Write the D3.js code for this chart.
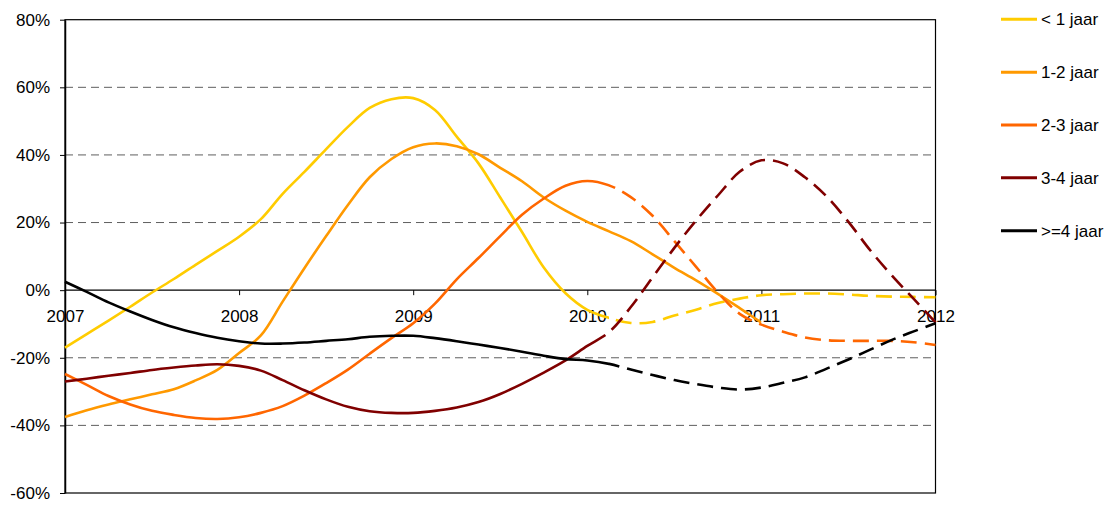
<!DOCTYPE html>
<html>
<head>
<meta charset="utf-8">
<script src="https://cdn.jsdelivr.net/npm/d3@7"></script>
<style>
  html, body { margin: 0; padding: 0; background: #fff; }
  svg { display: block; font-family: Arial, "Liberation Sans", sans-serif; }
</style>
</head>
<body>
<svg id="chart" width="1115" height="507"></svg>
<script>
// ---- data ----
const xPoints = [2007, 2007.125, 2007.25, 2007.375, 2007.5, 2007.625, 2007.75, 2007.875,
  2008, 2008.125, 2008.25, 2008.375, 2008.5, 2008.625, 2008.75, 2008.875,
  2009, 2009.125, 2009.25, 2009.375, 2009.5, 2009.625, 2009.75, 2009.875,
  2010, 2010.125, 2010.25, 2010.375, 2010.5, 2010.625, 2010.75, 2010.875,
  2011, 2011.125, 2011.25, 2011.375, 2011.5, 2011.625, 2011.75, 2011.875, 2012];

const seriesNames = ["< 1 jaar", "1-2 jaar", "2-3 jaar", "3-4 jaar", ">=4 jaar"];

const lessThan1 = [-17, -13, -9, -4.9, -0.7, 3.3, 7.5, 11.6, 15.8, 21, 28.5, 35, 41.7, 48.3, 53.9, 56.5,
  56.8, 53.3, 45.4, 37.5, 27.4, 17.2, 6.7, -0.9, -5.8, -8.2, -9.7, -9.4, -7.5, -5.8, -3.8, -2.5,
  -1.5, -1.2, -1.0, -1.0, -1.3, -1.7, -1.9, -2.0, -2.1];

const oneToTwo = [-37.5, -35.5, -33.8, -32.3, -30.8, -29.3, -26.7, -23.6, -18.6, -13.4, -3.4, 6.5, 16, 25.2, 33.4, 38.8,
  42.3, 43.4, 42.6, 40.2, 36.2, 32.2, 27.4, 23.5, 20.2, 17.4, 14.5, 10.6, 6.6, 2.9, -1.1, -5.3,
  -9.6, null, null, null, null, null, null, null, null];

const twoToThree = [-24.8, -28, -31.3, -33.8, -35.7, -36.9, -37.8, -38.1, -37.6, -36.3, -34.3, -31.2, -27.5, -23.5, -18.8, -14.2,
  -9.8, -4.0, 3.2, 9.5, 16, 22.3, 27.1, 30.9, 32.3, 31, 27.5, 22, 14.5, 6.9, -0.7, -7.0,
  -10.2, -12.3, -14, -14.8, -15, -15, -15, -15.4, -16.2];

const threeToFour = [-27, -26.2, -25.3, -24.5, -23.6, -22.9, -22.3, -21.9, -22.4, -23.8, -26.6, -29.6, -32.3, -34.5, -35.8, -36.3,
  -36.3, -35.7, -34.7, -33.1, -30.7, -27.7, -24.4, -20.8, -16.5, -12.4, -5.0, 3.8, 12.5, 20.6, 28, 35,
  38.4, 37.5, 33.4, 27.7, 20.2, 11.8, 4.3, -2.6, -9.5];

const fourPlus = [2.5, -0.5, -3.6, -6.3, -8.8, -11.0, -12.7, -14.1, -15.1, -15.8, -15.8, -15.5, -15.0, -14.5, -13.8, -13.5,
  -13.5, -14.2, -15.1, -16.1, -17.1, -18.2, -19.4, -20.4, -20.8, -21.8, -23.5, -25.1, -26.6, -27.8, -28.8, -29.4,
  -28.8, -27.4, -25.8, -23.2, -20.5, -17.6, -14.7, -12.2, -9.8];

const forecastStart = [2010.125, 2011, 2010.125, 2010.09, 2010.125];

const yTicks = [-60, -40, -20, 0, 20, 40, 60, 80];
const xTicks = [2007, 2008, 2009, 2010, 2011, 2012];
const gridValues = [-40, -20, 20, 40, 60];

const colors = ["#FFCC00", "#FF9900", "#FF6600", "#800000", "#000000"];

// ---- layout ----
const plotLeft = 65, plotRight = 935.5, plotTop = 19.7, plotBottom = 493;
const svg = d3.select("#chart");
const x = d3.scaleLinear().domain([2007, 2012]).range([plotLeft, plotRight]);
const y = d3.scaleLinear().domain([-60, 80]).range([plotBottom, plotTop]);

const allSeries = [lessThan1, oneToTwo, twoToThree, threeToFour, fourPlus].map((vals, i) => ({
  name: seriesNames[i],
  color: colors[i],
  split: forecastStart[i],
  points: xPoints.map((xv, j) => ({ x: xv, v: vals[j] }))
}));

// gridlines
svg.append("g").selectAll("line").data(gridValues).join("line")
  .attr("x1", plotLeft).attr("x2", plotRight)
  .attr("y1", d => y(d)).attr("y2", d => y(d))
  .attr("stroke", "#5f5f5f").attr("stroke-width", 1)
  .attr("stroke-dasharray", "8,5");

// plot border
svg.append("rect")
  .attr("x", plotLeft).attr("y", plotTop)
  .attr("width", plotRight - plotLeft).attr("height", plotBottom - plotTop)
  .attr("fill", "none").attr("stroke", "#000").attr("stroke-width", 1.2);

// zero line
svg.append("line")
  .attr("x1", plotLeft).attr("x2", plotRight)
  .attr("y1", y(0)).attr("y2", y(0))
  .attr("stroke", "#000").attr("stroke-width", 1.2);

// y axis
const yAxis = svg.append("g").attr("transform", `translate(${plotLeft},0)`)
  .call(d3.axisLeft(y).tickValues(yTicks).tickSize(5).tickSizeOuter(0).tickPadding(10)
    .tickFormat(d => d + "%"));
yAxis.select(".domain").attr("stroke", "#000").attr("stroke-width", 1.5);
yAxis.selectAll(".tick line").attr("stroke", "#000");
yAxis.selectAll("text").attr("font-size", 17).attr("fill", "#000")
  .attr("font-family", 'Arial, "Liberation Sans", sans-serif');

// x axis on the zero line
const xAxis = svg.append("g").attr("transform", `translate(0,${y(0)})`)
  .call(d3.axisBottom(x).tickValues(xTicks).tickSize(5).tickSizeOuter(0).tickFormat(d3.format("d")));
xAxis.select(".domain").remove();
xAxis.selectAll(".tick line").attr("stroke", "#000");
xAxis.selectAll("text").attr("font-size", 17).attr("fill", "#000")
  .attr("y", 19.5).attr("dy", "0.71em")
  .attr("font-family", 'Arial, "Liberation Sans", sans-serif');

// clip paths for actual (solid) and forecast (dashed) parts
const defs = svg.append("defs");
allSeries.forEach((s, i) => {
  defs.append("clipPath").attr("id", "solid" + i).append("rect")
    .attr("x", 0).attr("y", 0).attr("width", x(s.split)).attr("height", 507);
  defs.append("clipPath").attr("id", "dash" + i).append("rect")
    .attr("x", x(s.split)).attr("y", 0).attr("width", 1115 - x(s.split)).attr("height", 507);
});

const lineGen = d3.line()
  .defined(d => d.v !== null)
  .x(d => x(d.x)).y(d => y(d.v))
  .curve(d3.curveCatmullRom.alpha(0.5));

const linesG = svg.append("g");
allSeries.forEach((s, i) => {
  linesG.append("path").datum(s.points)
    .attr("d", lineGen)
    .attr("fill", "none").attr("stroke", s.color).attr("stroke-width", 2.6)
    .attr("stroke-linejoin", "round")
    .attr("clip-path", `url(#solid${i})`);
  linesG.append("path").datum(s.points)
    .attr("d", lineGen)
    .attr("fill", "none").attr("stroke", s.color).attr("stroke-width", 2.6)
    .attr("stroke-dasharray", "16,8")
    .attr("clip-path", `url(#dash${i})`);
});

// legend
const legendY0 = 19.3, legendStep = 52.85;
const legend = svg.append("g").selectAll("g").data(allSeries).join("g")
  .attr("transform", (d, i) => `translate(1001,${legendY0 + i * legendStep})`);
legend.append("line").attr("x1", 0).attr("x2", 36).attr("y1", 0).attr("y2", 0)
  .attr("stroke", d => d.color).attr("stroke-width", 3);
legend.append("text").attr("x", 40).attr("y", 0).attr("dy", "0.35em")
  .attr("font-size", 17).attr("fill", "#000").text(d => d.name);
</script>
</body>
</html>
